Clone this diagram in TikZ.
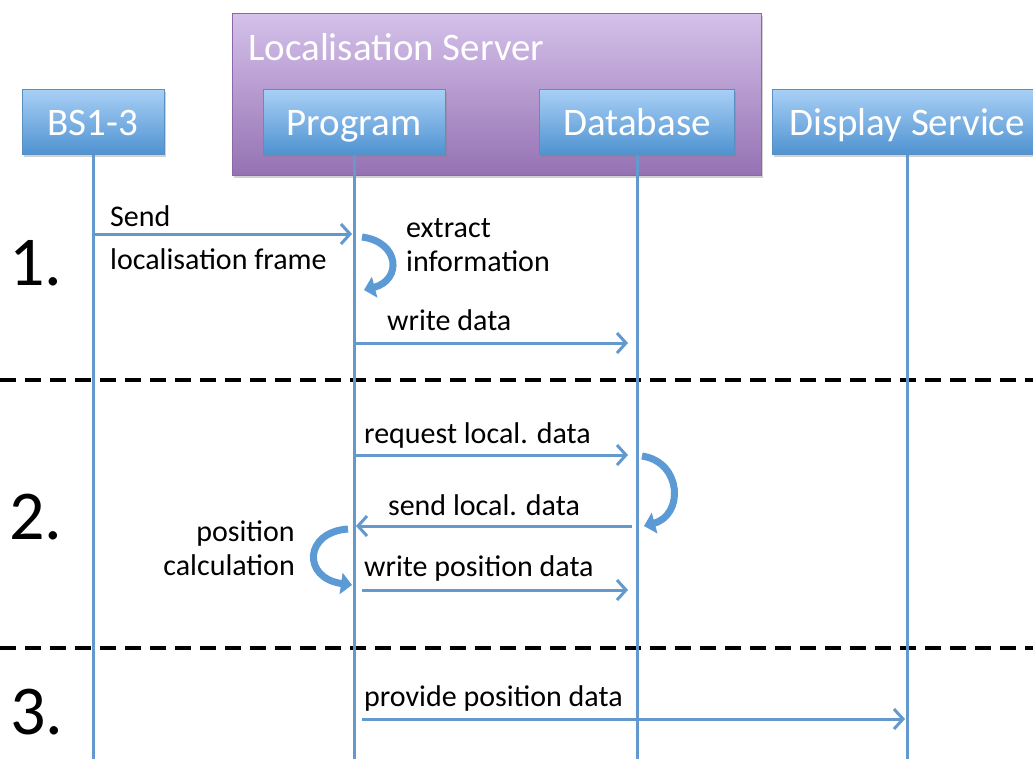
\documentclass[tikz,border=0pt]{standalone}
\usepackage{fontspec}
\setmainfont{Carlito}
\usetikzlibrary{arrows.meta,shadows}
\definecolor{lifeblue}{HTML}{6399CC}
\definecolor{boxtop}{HTML}{A9D0F6}
\definecolor{boxbot}{HTML}{4F93D1}
\definecolor{boxdraw}{HTML}{5A8FC2}
\definecolor{purtop}{HTML}{D5C1EA}
\definecolor{purbot}{HTML}{9572B3}
\definecolor{purdraw}{HTML}{8A68A8}
\definecolor{curlcol}{HTML}{5C9AD6}
\begin{document}
\begin{tikzpicture}[x=1pt,y=-1pt,
  actor/.style={draw=boxdraw, line width=1pt, top color=boxtop, bottom color=boxbot,
    minimum height=65pt, text=white, font=\fontsize{39}{42}\selectfont, inner sep=0pt,
    text height=27pt, text depth=0pt,
    drop shadow={shadow xshift=1.5pt, shadow yshift=-2.5pt, opacity=0.35}},
  server/.style={draw=purdraw, line width=1pt, top color=purtop, bottom color=purbot,
    minimum width=529pt, minimum height=162pt, inner sep=0pt,
    drop shadow={shadow xshift=1.5pt, shadow yshift=-2.5pt, opacity=0.35}},
  lifeline/.style={draw=lifeblue, line width=3pt},
  msg/.style={draw=lifeblue, line width=3pt, -{Straight Barb[length=9pt,width=20pt]}},
  curl/.style={draw=curlcol, line width=7pt, -{Triangle[length=11pt,width=21pt]}},
  lbl/.style={font=\fontsize{30}{34}\selectfont, inner sep=0pt},
  stepnum/.style={font=\fontsize{70}{74}\selectfont, inner sep=0pt},
  divider/.style={draw=black, line width=4pt, dash pattern=on 16pt off 9pt}
]
\useasboundingbox (0,0) rectangle (1033,758);
\fill[white] (0,0) rectangle (1033,758);

% server container
\node[server] (srv) at (496.5,94) {};
\node[anchor=base west, text=white, font=\fontsize{39}{42}\selectfont, inner sep=0pt] (srvlbl) at (248,60) {Localisation Server};

% actors
\node[actor, minimum width=142pt] (bs) at (93,121.5) {BS1-3};
\node[actor, minimum width=182pt] (prog) at (354,121.5) {Program};
\node[actor, minimum width=195pt] (db) at (637,121.5) {Database};
\node[actor, minimum width=270pt] (disp) at (907,121.5) {Display Service};

% dividers
\coordinate (d1a) at (0,380); \coordinate (d1b) at (1040,380);
\coordinate (d2a) at (0,648); \coordinate (d2b) at (1040,648);
\draw[divider] (d1a) -- (d1b);
\draw[divider] (d2a) -- (d2b);

% lifelines
\coordinate (bot) at (0,760);
\draw[lifeline] (bs.south) -- (bs.south |- bot);
\draw[lifeline] (prog.south) -- (prog.south |- bot);
\draw[lifeline] (db.south) -- (db.south |- bot);
\draw[lifeline] (disp.south) -- (disp.south |- bot);

% step numbers
\node[stepnum] (n1) at (36,263) {1.};
\node[stepnum] (n2) at (36,517) {2.};
\node[stepnum] (n3) at (37,712) {3.};

% step 1
\coordinate (s1a) at (93,234); \coordinate (s1b) at (352,234);
\draw[msg] (s1a) -- (s1b);
\node[lbl, anchor=base west] (t1) at (110,226) {Send};
\node[lbl, anchor=base west] (t2) at (110,269) {localisation frame};
\coordinate (c1a) at (362,237); \coordinate (c1b) at (364,290);
\draw[curl] (c1a) .. controls (400,242) and (402,280) .. (c1b);
\node[lbl, anchor=base west] (t3) at (406,237) {extract};
\node[lbl, anchor=base west] (t4) at (406,271) {information};
\coordinate (w1a) at (354,343); \coordinate (w1b) at (628,343);
\draw[msg] (w1a) -- (w1b);
\node[lbl, anchor=base west] (t5) at (387,330) {write data};

% step 2
\coordinate (r2a) at (354,455); \coordinate (r2b) at (628,455);
\draw[msg] (r2a) -- (r2b);
\node[lbl, anchor=base west] (t6) at (364,443) {request local. data};
\coordinate (c2a) at (642,456); \coordinate (c2b) at (644,526);
\draw[curl] (c2a) .. controls (682,462) and (684,515) .. (c2b);
\coordinate (s2a) at (632,526); \coordinate (s2b) at (356,526);
\draw[msg] (s2a) -- (s2b);
\node[lbl, anchor=base] (t7) at (484,515) {send local. data};
\coordinate (c3a) at (348,529); \coordinate (c3b) at (352,585);
\draw[curl] (c3a) .. controls (304,532) and (302,578) .. (c3b);
\node[lbl, anchor=base east] (t8) at (295,541) {position};
\node[lbl, anchor=base east] (t9) at (295,575) {calculation};
\coordinate (w2a) at (362,590); \coordinate (w2b) at (628,590);
\draw[msg] (w2a) -- (w2b);
\node[lbl, anchor=base west] (t10) at (364,576) {write position data};

% step 3
\coordinate (p3a) at (362,719); \coordinate (p3b) at (905,719);
\draw[msg] (p3a) -- (p3b);
\node[lbl, anchor=base west] (t11) at (364,706) {provide position data};
\end{tikzpicture}
\end{document}
